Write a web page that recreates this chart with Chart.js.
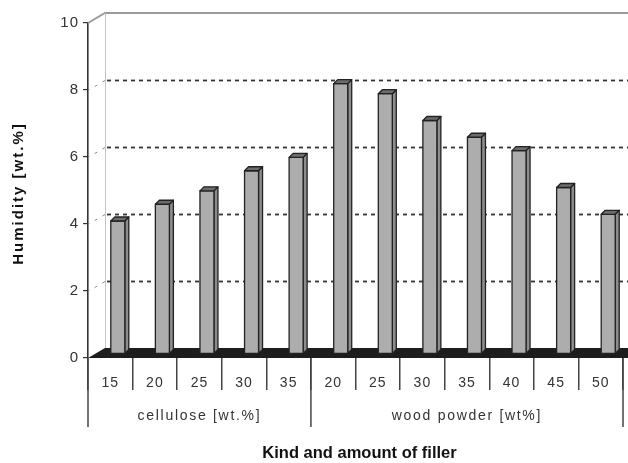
<!DOCTYPE html>
<html>
<head>
<meta charset="utf-8">
<script src="https://cdn.jsdelivr.net/npm/chart.js@4.4.1/dist/chart.umd.min.js"></script>
<style>
  html, body { margin: 0; padding: 0; background: #fff; }
  #wrap { width: 628px; height: 463px; }
</style>
</head>
<body>
<div id="wrap"><canvas id="c" width="628" height="463"></canvas></div>
<script>
// Filler content on the category axis
const categories = ['15', '20', '25', '30', '35', '20', '25', '30', '35', '40', '45', '50'];
// Humidity of each composite, wt.%
const humidity = [4.0, 4.5, 4.9, 5.5, 5.9, 8.1, 7.8, 7.0, 6.5, 6.1, 5.0, 4.2];
// Filler kinds and how many categories each one spans
const groupNames = ['cellulose [wt.%]', 'wood powder [wt%]'];
const groupSizes = [5, 7];
// Value axis ticks
const yTicks = [0, 2, 4, 6, 8, 10];
// Axis titles
const yTitle = 'Humidity [wt.%]';
const xTitle = 'Kind and amount of filler';

const FONT = "'Liberation Sans', Arial, sans-serif";
// pseudo-3D depth of the plot box
const DEPTH_X = 17, DEPTH_Y = 10;

function spacing(ctx, px) {
  if ('letterSpacing' in ctx) ctx.letterSpacing = px + 'px';
}

const box3d = {
  id: 'box3d',
  beforeDraw(chart) {
    // slightly open letter spacing for the axis tick labels
    spacing(chart.ctx, 1);
  },
  beforeDatasetsDraw(chart) {
    const {ctx, chartArea: a, scales: {y}} = chart;
    const W = chart.width;
    ctx.save();
    // back wall outline
    ctx.strokeStyle = '#9a9a9a';
    ctx.lineWidth = 2;
    ctx.beginPath();
    ctx.moveTo(a.left, y.getPixelForValue(10));
    ctx.lineTo(a.left + DEPTH_X, y.getPixelForValue(10) - DEPTH_Y);
    ctx.lineTo(W, y.getPixelForValue(10) - DEPTH_Y);
    ctx.stroke();
    ctx.strokeStyle = '#c4c4c4';
    ctx.lineWidth = 1;
    ctx.beginPath();
    ctx.moveTo(a.left + DEPTH_X + 0.5, y.getPixelForValue(10) - DEPTH_Y);
    ctx.lineTo(a.left + DEPTH_X + 0.5, y.getPixelForValue(0) - DEPTH_Y);
    ctx.stroke();
    // dashed gridlines on the back wall
    yTicks.filter(v => v > 0 && v < 10).forEach(v => {
      const py = Math.round(y.getPixelForValue(v) - DEPTH_Y) + 0.5;
      ctx.strokeStyle = '#333';
      ctx.lineWidth = 1.8;
      ctx.setLineDash([4, 4]);
      ctx.beginPath();
      ctx.moveTo(a.left + DEPTH_X + 2, py);
      ctx.lineTo(W, py);
      ctx.stroke();
      ctx.strokeStyle = '#888';
      ctx.lineWidth = 1;
      ctx.setLineDash([3, 6]);
      ctx.beginPath();
      ctx.moveTo(a.left + DEPTH_X, py);
      ctx.lineTo(a.left, py + DEPTH_Y);
      ctx.stroke();
    });
    ctx.setLineDash([]);
    // floor
    const y0 = y.getPixelForValue(0);
    ctx.fillStyle = '#1d1d1d';
    ctx.beginPath();
    ctx.moveTo(a.left, y0);
    ctx.lineTo(a.left + DEPTH_X, y0 - DEPTH_Y);
    ctx.lineTo(W, y0 - DEPTH_Y);
    ctx.lineTo(W, y0);
    ctx.closePath();
    ctx.fill();
    ctx.restore();
  },
  afterDatasetsDraw(chart) {
    const {ctx} = chart;
    const meta = chart.getDatasetMeta(0);
    const FW = 14, SW = 4, CH = 4;
    ctx.save();
    ctx.lineJoin = 'round';
    ctx.strokeStyle = '#222';
    ctx.lineWidth = 1.3;
    meta.data.forEach(el => {
      const L = el.x + 0.5;
      const T = el.y - 3;
      const B = el.base - 4;
      // side face
      ctx.fillStyle = '#8d8d8d';
      ctx.beginPath();
      ctx.moveTo(L + FW, T);
      ctx.lineTo(L + FW + SW, T - CH);
      ctx.lineTo(L + FW + SW, B - CH);
      ctx.lineTo(L + FW, B);
      ctx.closePath();
      ctx.fill();
      ctx.stroke();
      // front face
      ctx.fillStyle = '#adadad';
      ctx.fillRect(L, T, FW, B - T);
      ctx.strokeRect(L, T, FW, B - T);
      // top cap
      ctx.fillStyle = '#6c6c6c';
      ctx.beginPath();
      ctx.moveTo(L, T);
      ctx.lineTo(L + SW, T - CH);
      ctx.lineTo(L + FW + SW, T - CH);
      ctx.lineTo(L + FW, T);
      ctx.closePath();
      ctx.fill();
      ctx.stroke();
    });
    ctx.restore();
  },
  afterDraw(chart) {
    const {ctx, chartArea: a, scales: {x, y}} = chart;
    const y0 = y.getPixelForValue(0);
    const half = (x.getPixelForValue(1) - x.getPixelForValue(0)) / 2;
    ctx.save();
    // filler-kind labels under the category ticks
    ctx.strokeStyle = '#444';
    ctx.lineWidth = 1.5;
    ctx.fillStyle = '#333';
    ctx.font = '14px ' + FONT;
    ctx.textAlign = 'center';
    ctx.textBaseline = 'middle';
    spacing(ctx, 1.7);
    let start = 0;
    const edges = [x.getPixelForValue(0) - half];
    groupSizes.forEach((n, i) => {
      const l = x.getPixelForValue(start) - half;
      const r = x.getPixelForValue(start + n - 1) + half;
      edges.push(r);
      ctx.fillText(groupNames[i], (l + r) / 2, y0 + 58);
      start += n;
    });
    edges.forEach(px => {
      ctx.beginPath();
      ctx.moveTo(px, y0);
      ctx.lineTo(px, y0 + 69);
      ctx.stroke();
    });
    // axis titles
    ctx.fillStyle = '#111';
    spacing(ctx, 0);
    ctx.font = 'bold 16.5px ' + FONT;
    ctx.fillText(xTitle, (a.left + a.right) / 2 + 4, 453);
    ctx.translate(19, (a.top + a.bottom) / 2 + 4);
    ctx.rotate(-Math.PI / 2);
    ctx.font = 'bold 15px ' + FONT;
    spacing(ctx, 2);
    ctx.fillText(yTitle, 1, 0);
    ctx.restore();
  }
};

new Chart(document.getElementById('c'), {
  type: 'bar',
  data: {
    labels: categories,
    datasets: [{
      data: humidity,
      backgroundColor: 'rgba(0,0,0,0)',
      borderWidth: 0
    }]
  },
  options: {
    responsive: false,
    animation: false,
    devicePixelRatio: 1,
    layout: { padding: { top: 23, right: 5, left: 0, bottom: 0 } },
    plugins: { legend: { display: false }, tooltip: { enabled: false } },
    scales: {
      y: {
        min: 0, max: 10,
        afterBuildTicks(s) { s.ticks = yTicks.map(v => ({ value: v })); },
        afterFit(s) { s.width = 88; },
        ticks: { color: '#333', font: { family: FONT, size: 15 }, padding: 4 },
        grid: { drawOnChartArea: false, tickLength: 5, color: '#333', lineWidth: 1.2 },
        border: { display: true, color: '#333', width: 1.6 }
      },
      x: {
        afterFit(s) { s.height = 105; },
        ticks: { color: '#333', font: { family: FONT, size: 14 }, padding: -15 },
        grid: { drawOnChartArea: false, offset: true, tickLength: 32, color: '#444', lineWidth: 1.5 },
        border: { display: false }
      }
    }
  },
  plugins: [box3d]
});
</script>
</body>
</html>
